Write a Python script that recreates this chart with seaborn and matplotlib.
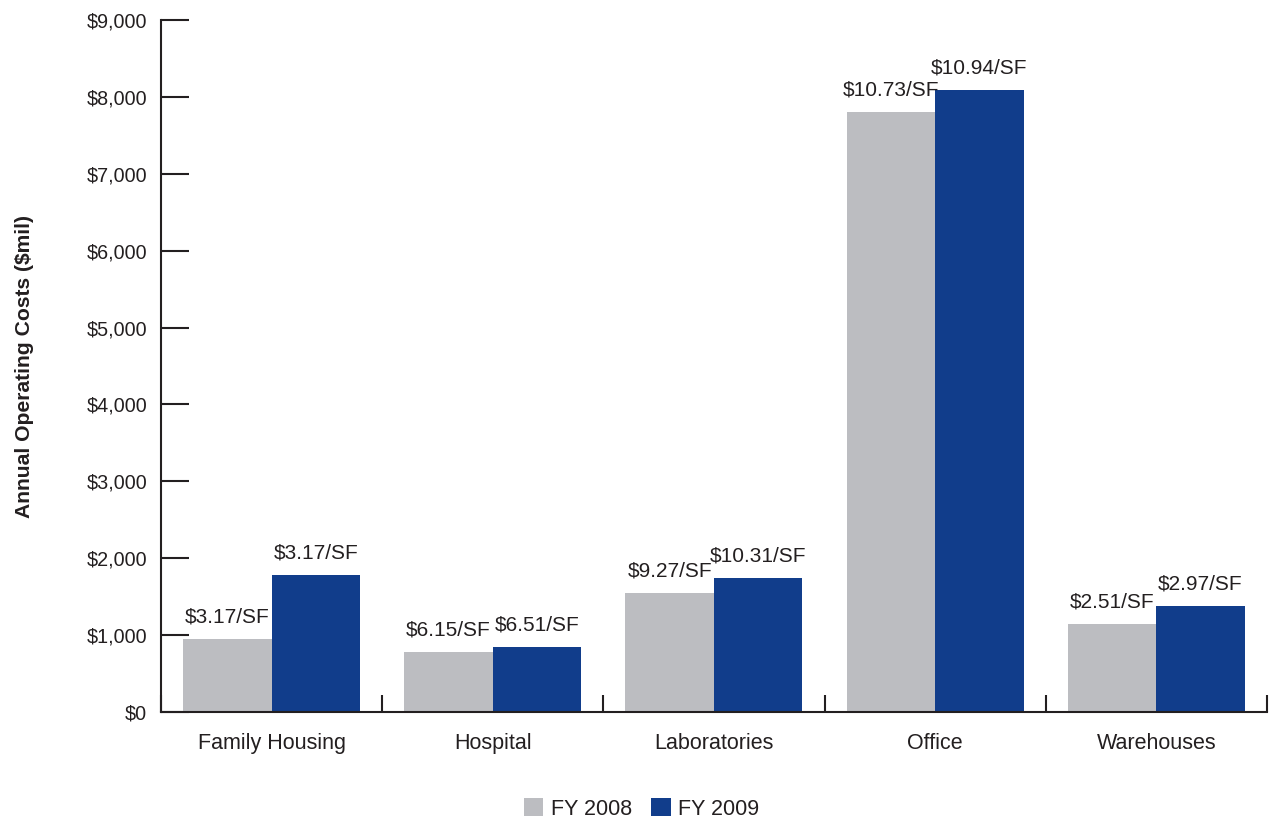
import numpy as np
import pandas as pd
import matplotlib
matplotlib.use("Agg")
import matplotlib.pyplot as plt
from matplotlib.ticker import FuncFormatter, FixedLocator
from matplotlib.patches import Patch
import seaborn as sns

# ---- data ----
categories = ["Family Housing", "Hospital", "Laboratories", "Office", "Warehouses"]
years = ["FY 2008", "FY 2009"]
cost_2008 = [948, 779, 1545, 7805, 1143]
cost_2009 = [1779, 844, 1740, 8091, 1377]
label_2008 = ["$3.17/SF", "$6.15/SF", "$9.27/SF", "$10.73/SF", "$2.51/SF"]
label_2009 = ["$3.17/SF", "$6.51/SF", "$10.31/SF", "$10.94/SF", "$2.97/SF"]
y_ticks = [0, 1000, 2000, 3000, 4000, 5000, 6000, 7000, 8000, 9000]

colors = ["#BCBDC1", "#113D8B"]
ink = "#231F20"

df = pd.DataFrame({
    "category": categories * 2,
    "year": [years[0]] * len(categories) + [years[1]] * len(categories),
    "cost": cost_2008 + cost_2009,
})

sns.set_theme(style="white")
plt.rcParams["font.family"] = ["Liberation Sans", "DejaVu Sans"]

fig = plt.figure(figsize=(12.74, 8.21), dpi=100)
ax = fig.add_axes([0.1264, 0.1328, 0.868, 0.8428])

sns.barplot(data=df, x="category", y="cost", hue="year", order=categories,
            hue_order=years, palette=colors, saturation=1, width=0.8,
            linewidth=0, ax=ax)

for cont, labs in zip(ax.containers, [label_2008, label_2009]):
    ax.bar_label(cont, labels=labs, padding=9, fontsize=15, color=ink)

ax.set_xlim(-0.5, len(categories) - 0.5)
ax.set_ylim(0, 9000)
ax.set_yticks(y_ticks)
ax.yaxis.set_major_formatter(FuncFormatter(lambda v, p: f"${v:,.0f}"))

# boundary ticks between groups, pointing up
ax.xaxis.set_minor_locator(FixedLocator(np.arange(-0.5, len(categories), 1.0)))
ax.tick_params(axis="x", which="major", length=0, pad=15, labelsize=15.5, labelcolor=ink)
ax.tick_params(axis="x", which="minor", direction="in", length=12, width=1.5, color=ink, bottom=True)
ax.tick_params(axis="y", direction="in", length=20, width=1.5, color=ink, left=True,
               pad=10, labelsize=14.2, labelcolor=ink)

for side in ["top", "right"]:
    ax.spines[side].set_visible(False)
for side in ["left", "bottom"]:
    ax.spines[side].set_color(ink)
    ax.spines[side].set_linewidth(1.5)

ax.set_xlabel("")
ax.set_ylabel("Annual Operating Costs ($mil)", fontsize=15.2, fontweight="bold",
              color=ink, labelpad=38)

ax.get_legend().remove()
handles = [Patch(facecolor=c, edgecolor="none", label=y) for c, y in zip(colors, years)]
fig.legend(handles=handles, loc="lower center", bbox_to_anchor=(0.5035, -0.022), ncol=2,
           frameon=False, fontsize=15.5, handlelength=0.9, handleheight=0.9,
           handletextpad=0.35, columnspacing=0.9, labelcolor=ink)

fig.savefig("out.png", dpi=100)
